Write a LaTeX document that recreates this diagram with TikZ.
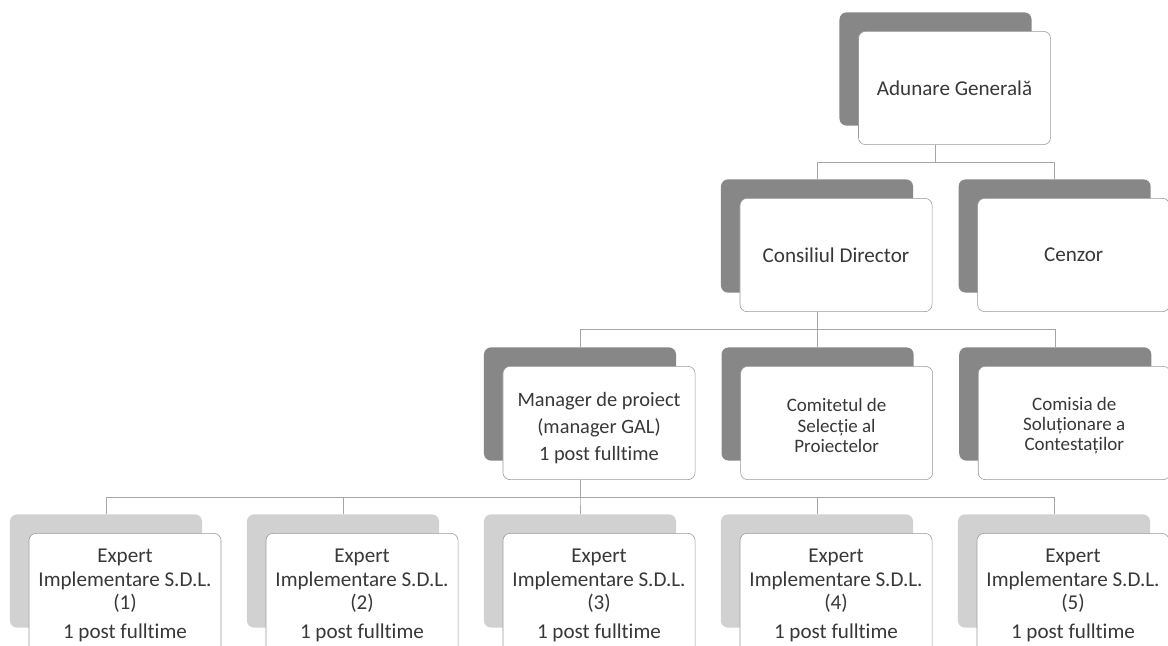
\documentclass[tikz,border=0pt]{standalone}
\usepackage{fontspec}
\setmainfont{Carlito}[Ligatures=NoCommon]
\usepackage{tikz}
\usetikzlibrary{calc}
\usetikzlibrary{positioning}

\begin{document}
\begin{tikzpicture}[x=0.025cm, y=-0.025cm,
    backdark/.style={rounded corners=5pt, fill=black!47, inner sep=0pt, minimum width=4.8cm, minimum height=2.83cm},
    backlight/.style={backdark, fill=black!18},
    card/.style={rounded corners=5pt, draw=black!40, line width=0.4pt, fill=white, inner sep=2pt,
        minimum width=4.8cm, minimum height=2.83cm, align=center, text=black!78,
        font=\fontsize{15}{17}\selectfont},
    smallcard/.style={card, font=\fontsize{13.5}{14.5}\selectfont},
    link/.style={draw=black!35, line width=0.5pt}
    ]
    \useasboundingbox (0,0) rectangle (1168,645);
    \clip (0,0) rectangle (1168,645);

    % top level
    \node[backdark] (AGb) at (935.5,69) {};
    \node[card] (AG) at ([shift={(19,19)}]AGb.center) {Adunare Generală};

    % second level
    \node[backdark] (CDb) at (817,236) {};
    \node[backdark, right=1.125cm of CDb] (CZb) {};
    \draw[link] (AGb |- AG.south) -- ++(0,17.5) -| (CDb.north);
    \draw[link] (AGb |- AG.south) -- ++(0,17.5) -| (CZb.north);
    \node[card] (CD) at ([shift={(19,19)}]CDb.center) {Consiliul Director};
    \node[card] (CZ) at ([shift={(19,19)}]CZb.center) {Cenzor};

    % third level
    \node[backdark] (MPb) at (580,404) {};
    \node[backdark, right=1.125cm of MPb] (CSb) {};
    \node[backdark, right=1.125cm of CSb] (CMb) {};
    \foreach \b in {MPb,CSb,CMb}
        \draw[link] (CDb |- CD.south) -- ++(0,17.5) -| (\b.north);
    \node[card, font=\fontsize{14.5}{17}\selectfont] (MP) at ([shift={(19,19)}]MPb.center)
        {\rule{0pt}{17pt}Manager de proiect\\[2pt](manager GAL)\\[2pt]1 post fulltime};
    \node[smallcard] (CS) at ([shift={(19,19)}]CSb.center) {\rule{0pt}{13pt}Comitetul de\\Selecție al\\Proiectelor};
    \node[smallcard] (CM) at ([shift={(19,19)}]CMb.center) {\rule{0pt}{13pt}Comisia de\\Soluționare a\\Contestaților};

    % experts
    \def\experts{1,2,3,4,5}
    \foreach \k [count=\ki from 0] in \experts {
        \node[backlight] (back\k) at (106+237*\ki,571) {};
        \draw[link] (MPb |- MP.south) -- ++(0,17.5) -| (back\k.north);
        \node[card, minimum height=3.08cm] (exp\k) at ([shift={(19,24)}]back\k.center)
            {Expert\\Implementare S.D.L.\\(\k)\\[3pt]1 post fulltime};
    }
\end{tikzpicture}
\end{document}
